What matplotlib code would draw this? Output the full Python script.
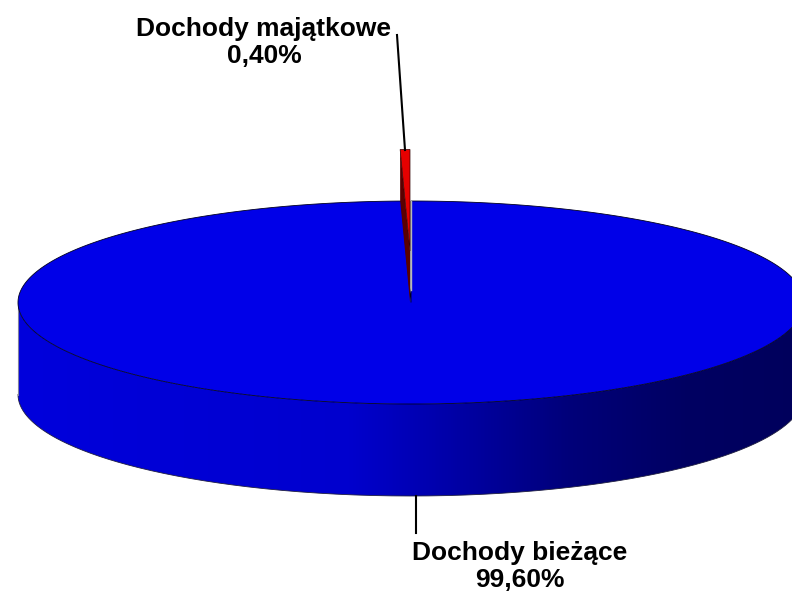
import numpy as np
import matplotlib
matplotlib.use("Agg")
import matplotlib.pyplot as plt
from matplotlib.patches import Polygon
from matplotlib.colors import LinearSegmentedColormap

categories = ["Dochody bieżące", "Dochody majątkowe"]
shares = [99.60, 0.40]
value_labels = ["99,60%", "0,40%"]

W, H = 792, 597
CX, CY, RX, RY = 411, 302.5, 393, 101.5
DEPTH = 92 / RY
EXPLODE = 51.5 / RY
BLUE = "#0000E8"
RED = "#E60000"
DARK_RED = "#5A0000"

plt.rcParams["font.family"] = ["Liberation Sans", "DejaVu Sans"]
fig = plt.figure(figsize=(W / 100, H / 100), dpi=100)
ax = fig.add_axes([0, 0, 1, 1])
# one data unit = disc radius, so the disc is the unit circle
ax.set_xlim(-CX / RX, (W - CX) / RX)
ax.set_ylim((CY - H) / RY, CY / RY)
ax.axis("off")


def arc(a0, a1, n=600):
    t = np.radians(np.linspace(a0, a1, n))
    return np.column_stack([np.cos(t), np.sin(t)])


small = shares[1] / sum(shares) * 360
a_start = 90.0
a_end = 90.0 + small

# side wall of the large slice with its shading
front = arc(180, 360)
wall_pts = np.vstack([front + [0, -DEPTH], front[::-1]])
cmap = LinearSegmentedColormap.from_list(
    "wall",
    [(0.0, "#0000DC"), (0.42, "#0000CE"), (0.55, "#0000A8"), (0.70, "#00007A"),
     (0.85, "#000062"), (1.0, "#00005C")],
)
wall = Polygon(wall_pts, closed=True, facecolor="none", edgecolor="none")
ax.add_patch(wall)
img = ax.imshow(
    np.linspace(0, 1, 512).reshape(1, -1), cmap=cmap, aspect="auto",
    extent=[-1, 1, -1 - DEPTH, 1], zorder=1, interpolation="bilinear",
)
img.set_clip_path(wall)
ax.set_xlim(-CX / RX, (W - CX) / RX)
ax.set_ylim((CY - H) / RY, CY / RY)
ax.plot(*(front + [0, -DEPTH]).T, color="#202040", lw=0.6, zorder=2)
ax.plot(*np.array([[-1, 0], [-1, -DEPTH]]).T, color="#8080A0", lw=0.8, zorder=2)

# top of the large slice
rim = arc(a_end, 360 + a_start)
top = np.vstack([[0, 0], rim])
ax.add_patch(Polygon(top, closed=True, facecolor=BLUE, edgecolor="#000020",
                     lw=0.6, zorder=3))
# pale sliver along the open edge of the cut
ax.plot([0, 0], [0.12, 1], color="#B8B8B8", lw=1.0, zorder=3.5)

# exploded small slice: dark cut face, then top (nudged left of its slot)
off = np.array([-1.0 / RX, EXPLODE])
small_rim = arc(a_start, a_end, 20) + off
apex = off
left = small_rim[-1]
cut = np.array([apex, left, left + [0, -DEPTH * 0.55], apex + [0, -DEPTH * 0.55]])
ax.add_patch(Polygon(cut, closed=True, facecolor=DARK_RED, edgecolor="none", zorder=4))
ax.add_patch(Polygon(np.vstack([apex, small_rim]), closed=True, facecolor=RED,
                     edgecolor="#300000", lw=0.5, zorder=5))


def fx(x):
    return x / W


def fy(y):
    return 1 - y / H


# leader lines and labels (figure positions)
fig.add_artist(plt.Line2D([fx(397), fx(405)], [fy(35), fy(150)], color="black", lw=1.5))
fig.add_artist(plt.Line2D([fx(416), fx(416)], [fy(496), fy(533)], color="black", lw=1.5))
fig.text(fx(264), fy(42.5), f"{categories[1]}\n{value_labels[1]}", ha="center", va="center",
         fontsize=19, fontweight="bold", linespacing=1.2)
fig.text(fx(520), fy(566.5), f"{categories[0]}\n{value_labels[0]}", ha="center", va="center",
         fontsize=19, fontweight="bold", linespacing=1.2)

fig.savefig("out.png", dpi=100)
